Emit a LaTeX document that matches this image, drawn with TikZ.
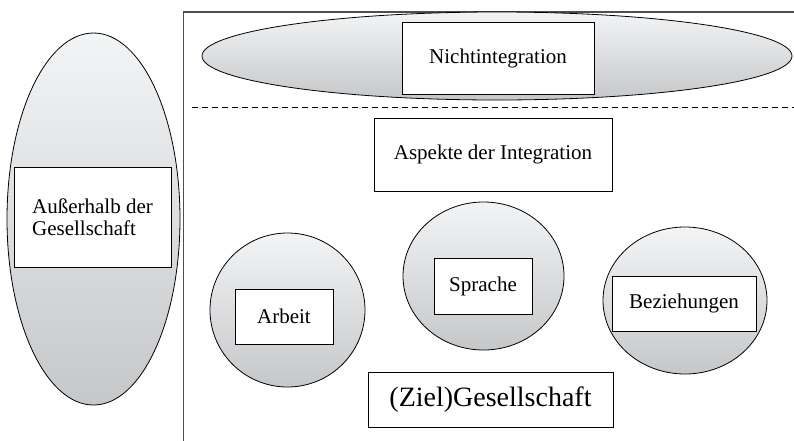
\documentclass[tikz,border=0pt]{standalone}
\usepackage{fontspec}
\setmainfont{Liberation Serif}
\usetikzlibrary{shapes.geometric}
\definecolor{shadetop}{HTML}{F3F4F5}
\definecolor{shadebot}{HTML}{C6C7C9}
\definecolor{framecol}{HTML}{4E4E4E}
\begin{document}
\begin{tikzpicture}[x=1pt,y=-1pt,
  blob/.style={ellipse, draw=black, line width=0.8pt, top color=shadetop, bottom color=shadebot, inner sep=0pt},
  lbl/.style={rectangle, draw=black, line width=0.8pt, fill=white, inner sep=0pt, font=\fontsize{21}{22}\selectfont, align=center},
  framestyle/.style={draw=framecol, line width=1.8pt},
  sepline/.style={draw=black, line width=1pt, dash pattern=on 6pt off 4pt}
]
\useasboundingbox (0,0) rectangle (794,440);
% frame of the society
\coordinate (fb) at (183.5,442);
\coordinate (ft) at (183.5,12);
\coordinate (fr) at (796,12);
\draw[framestyle] (fb) -- (ft) -- (fr);
% separating dashed line
\coordinate (dl) at (192,107);
\coordinate (dr) at (794,107);
\draw[sepline] (dl) -- (dr);
% outside society
\node[blob, minimum width=173pt, minimum height=372pt] (outE) at (93.5,219) {};
\node[lbl, minimum width=157pt, minimum height=100pt, align=left] (outB) at (92.5,217) {Außerhalb der\\Gesellschaft};
% non-integration
\node[blob, minimum width=590pt, minimum height=88pt] (nonE) at (497,56) {};
\node[lbl, minimum width=192pt, minimum height=72pt] (nonB) at (498,58) {Nichtintegration};
% aspects
\node[lbl, minimum width=238pt, minimum height=73pt] (asp) at (493,154.5) {Aspekte der Integration};
% Arbeit
\node[blob, minimum width=155pt, minimum height=154pt] (arbE) at (287.5,310) {};
\node[lbl, minimum width=98pt, minimum height=55pt] (arbB) at (284,316.5) {Arbeit};
% Sprache
\node[blob, minimum width=161pt, minimum height=148pt] (sprE) at (483.5,276) {};
\node[lbl, minimum width=98pt, minimum height=56pt] (sprB) at (483,286) {Sprache};
% Beziehungen
\node[blob, minimum width=164pt, minimum height=147pt] (bezE) at (685,300.5) {};
\node[lbl, minimum width=144pt, minimum height=55pt] (bezB) at (684,303.5) {Beziehungen};
% target society
\node[lbl, minimum width=245pt, minimum height=55pt, font=\fontsize{28}{30}\selectfont] (ziel) at (490.5,399.5) {(Ziel)Gesellschaft};
\end{tikzpicture}
\end{document}
